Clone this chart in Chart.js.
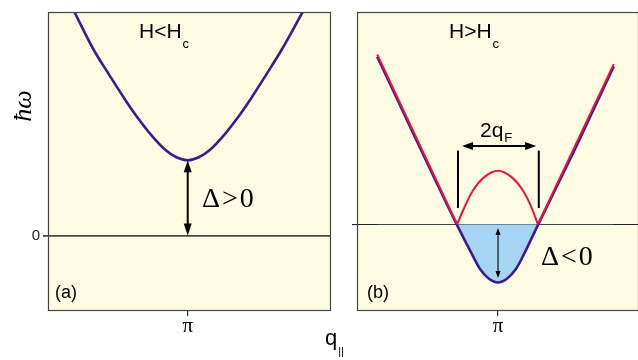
<!DOCTYPE html>
<html><head><meta charset="utf-8">
<script src="https://cdn.jsdelivr.net/npm/chart.js@4"></script>
<style>
html,body{margin:0;padding:0;background:#fff;width:638px;height:360px;overflow:hidden}
#wa{position:absolute;left:0;top:0;width:345px;height:360px}
#wb{position:absolute;left:300px;top:0;width:338px;height:360px}
</style></head><body>
<div id="wa"><canvas id="ca"></canvas></div>
<div id="wb"><canvas id="cb"></canvas></div>
<script>
const PI = Math.PI;
// ---- axis ticks ----
const xTicks = [PI];
const xTickLabels = ['π'];
const yTicks = [0];
const yTickLabelsA = ['0'];
const yTickLabelsB = [''];
// ---- panel (a): H < Hc, gapped branch ----
const qA = [0.61, 1.04, 1.39, 1.74, 2.04, 2.34, 2.64, 2.89, 3.14, 3.39, 3.64, 3.94, 4.24, 4.54, 4.89, 5.24, 5.71];
const eA = [3.01, 2.50, 2.16, 1.83, 1.57, 1.34, 1.15, 1.05, 1.01, 1.05, 1.15, 1.34, 1.57, 1.83, 2.16, 2.50, 3.01];
const gapArrowA = [PI, 0, 1.01];          // q, from E, to E
// ---- panel (b): H > Hc ----
const qBlue = [0.45, 1.34, 2.23, 2.56, 2.74, 2.94, 3.14, 3.34, 3.54, 3.72, 4.03, 4.88, 5.72];
const eBlue = [2.25, 1.11, -0.01, -0.40, -0.60, -0.73, -0.78, -0.73, -0.60, -0.40, -0.01, 1.04, 2.12];
const qRedLeft = [0.45, 2.23];
const eRedLeft = [2.28, 0];
const qRedBump = [2.23, 2.41, 2.58, 2.85, 3.14, 3.43, 3.70, 3.87, 4.03];
const eRedBump = [0, 0.25, 0.45, 0.64, 0.72, 0.64, 0.45, 0.25, 0];
const qRedRight = [4.03, 5.72];
const eRedRight = [0, 2.15];
const fermiBars = [2.25, 4.05];           // q positions
const fermiBarE = [0.22, 0.99];
const fermiArrow = [2.34, 3.99, 1.05];    // q from, q to, E
const gapArrowB = [PI, -0.05, -0.72];

const SANS = '"Liberation Sans", Arial, sans-serif';
const SERIF = '"Liberation Serif", "Times New Roman", serif';
const BG = '#fdfbe1', PURPLE = '#3d1a8f', RED = '#e4163c', FILL = '#a5d5f2', FRAME = '#444';

const pts = (q, e) => q.map((v, i) => ({x: v, y: e[i]}));

function head(ctx, tx, ty, ang, hl, hw) {
  ctx.beginPath();
  ctx.moveTo(tx, ty);
  ctx.lineTo(tx - hl*Math.cos(ang) + hw*Math.sin(ang), ty - hl*Math.sin(ang) - hw*Math.cos(ang));
  ctx.lineTo(tx - hl*Math.cos(ang) - hw*Math.sin(ang), ty - hl*Math.sin(ang) + hw*Math.cos(ang));
  ctx.closePath(); ctx.fill();
}
function dArrow(ctx, x1, y1, x2, y2, lw, hl, hw) {
  const a = Math.atan2(y2 - y1, x2 - x1);
  ctx.save();
  ctx.strokeStyle = '#000'; ctx.fillStyle = '#000'; ctx.lineWidth = lw;
  ctx.beginPath();
  ctx.moveTo(x1 + (hl-2)*Math.cos(a), y1 + (hl-2)*Math.sin(a));
  ctx.lineTo(x2 - (hl-2)*Math.cos(a), y2 - (hl-2)*Math.sin(a));
  ctx.stroke();
  head(ctx, x2, y2, a, hl, hw);
  head(ctx, x1, y1, a + PI, hl, hw);
  ctx.restore();
}
function txt(ctx, s, x, y, font, sub, subFont, subDy, align, spacing) {
  ctx.save();
  ctx.fillStyle = '#000'; ctx.textBaseline = 'alphabetic'; ctx.textAlign = align || 'left';
  ctx.font = font;
  if (spacing) ctx.letterSpacing = spacing;
  ctx.fillText(s, x, y);
  if (sub) {
    const w = ctx.measureText(s).width;
    ctx.font = subFont; ctx.fillText(sub, x + w + 1, y + subDy);
  }
  ctx.restore();
}

function makeFrame(annot) {
  return {
    id: 'frame',
    beforeDraw(chart) {
      const {ctx, chartArea: c} = chart;
      ctx.save(); ctx.fillStyle = BG; ctx.fillRect(c.left, c.top, c.right - c.left, c.bottom - c.top); ctx.restore();
    },
    afterDraw(chart) {
      const {ctx, chartArea: c} = chart;
      ctx.save(); ctx.strokeStyle = FRAME; ctx.lineWidth = 1.2;
      ctx.strokeRect(c.left + 0.5, c.top + 0.5, c.right - c.left, c.bottom - c.top);
      ctx.restore();
      annot(chart, ctx, chart.scales.x, chart.scales.y);
    }
  };
}

function baseOptions(xmin, xmax, ymin, ymax, yLabels, yAxisW, padRight, gridColor, gridW) {
  return {
    responsive: true, maintainAspectRatio: false, animation: false, devicePixelRatio: 1,
    layout: {padding: {left: 0, right: padRight, top: 12, bottom: 0}},
    plugins: {legend: {display: false}, tooltip: {enabled: false}},
    elements: {point: {radius: 0}},
    scales: {
      x: {
        type: 'linear', min: xmin, max: xmax,
        afterBuildTicks: s => { s.ticks = xTicks.map(v => ({value: v})); },
        ticks: {callback: (v, i) => xTickLabels[i], font: {family: SERIF, size: 21}, color: '#000', padding: -2, maxRotation: 0, autoSkip: false},
        grid: {drawOnChartArea: false, tickLength: 6, color: '#333', lineWidth: 1.2},
        border: {display: false},
        afterFit: s => { s.height = 50; }
      },
      y: {
        type: 'linear', min: ymin, max: ymax,
        afterBuildTicks: s => { s.ticks = yTicks.map(v => ({value: v})); },
        ticks: {callback: (v, i) => yLabels[i], font: {family: SANS, size: 15}, color: '#222', padding: 3},
        grid: {color: gridColor, lineWidth: gridW, tickLength: 5},
        border: {display: false},
        afterFit: s => { s.width = yAxisW; }
      }
    }
  };
}

new Chart(document.getElementById('ca'), {
  type: 'line',
  data: {datasets: [{data: pts(qA, eA), borderColor: PURPLE, borderWidth: 2.6, cubicInterpolationMode: 'monotone', fill: false}]},
  options: baseOptions(0.03, 6.31, -1, 3, yTickLabelsA, 48, 15, '#4a4a4a', 1.8),
  plugins: [makeFrame((chart, ctx, x, y) => {
    dArrow(ctx, x.getPixelForValue(gapArrowA[0]), y.getPixelForValue(gapArrowA[1]),
           x.getPixelForValue(gapArrowA[0]), y.getPixelForValue(gapArrowA[2]), 2, 12, 4);
    txt(ctx, 'H<H', 139, 38, '21px ' + SANS, 'c', '13px ' + SANS, 10);
    txt(ctx, 'Δ>0', 202, 207, '28px ' + SERIF, null, null, 0, 'left', '2px');
    txt(ctx, '(a)', 55, 298, '18px ' + SANS);
    ctx.save(); ctx.translate(31, 106); ctx.rotate(-PI/2);
    txt(ctx, 'ħω', 0, 0, 'italic 26px ' + SERIF, null, null, 0, 'center');
    ctx.restore();
  })]
});

new Chart(document.getElementById('cb'), {
  type: 'line',
  data: {datasets: [
    {data: pts(qRedLeft, eRedLeft), borderColor: RED, borderWidth: 2, fill: false},
    {data: pts(qRedBump, eRedBump), borderColor: RED, borderWidth: 2, cubicInterpolationMode: 'monotone', fill: false},
    {data: pts(qRedRight, eRedRight), borderColor: RED, borderWidth: 2, fill: false},
    {data: pts(qBlue, eBlue), borderColor: PURPLE, borderWidth: 2.6, cubicInterpolationMode: 'monotone',
     fill: {target: 'origin', above: 'rgba(0,0,0,0)', below: FILL}}
  ]},
  options: baseOptions(0, 6.26, -1.15, 2.85, yTickLabelsB, 57, 0, '#222', 1.1),
  plugins: [makeFrame((chart, ctx, x, y) => {
    ctx.save(); ctx.strokeStyle = '#000'; ctx.lineWidth = 2;
    fermiBars.forEach(q => {
      const px = x.getPixelForValue(q);
      ctx.beginPath(); ctx.moveTo(px, y.getPixelForValue(fermiBarE[0])); ctx.lineTo(px, y.getPixelForValue(fermiBarE[1])); ctx.stroke();
    });
    ctx.restore();
    dArrow(ctx, x.getPixelForValue(fermiArrow[0]), y.getPixelForValue(fermiArrow[2]),
           x.getPixelForValue(fermiArrow[1]), y.getPixelForValue(fermiArrow[2]), 2, 11, 4);
    dArrow(ctx, x.getPixelForValue(gapArrowB[0]), y.getPixelForValue(gapArrowB[1]),
           x.getPixelForValue(gapArrowB[0]), y.getPixelForValue(gapArrowB[2]), 1.1, 7, 2.5);
    const o = 300;
    txt(ctx, 'H>H', 449 - o, 38, '21px ' + SANS, 'c', '13px ' + SANS, 10);
    txt(ctx, '2q', 480 - o, 137, '21px ' + SANS, 'F', '13px ' + SANS, 5);
    txt(ctx, 'Δ<0', 541 - o, 265, '28px ' + SERIF, null, null, 0, 'left', '2px');
    txt(ctx, '(b)', 367 - o, 298, '18px ' + SANS);
    txt(ctx, 'q', 325 - o, 345, '22px ' + SANS, '||', '11px ' + SANS, 10);
  })]
});
</script>
</body></html>
